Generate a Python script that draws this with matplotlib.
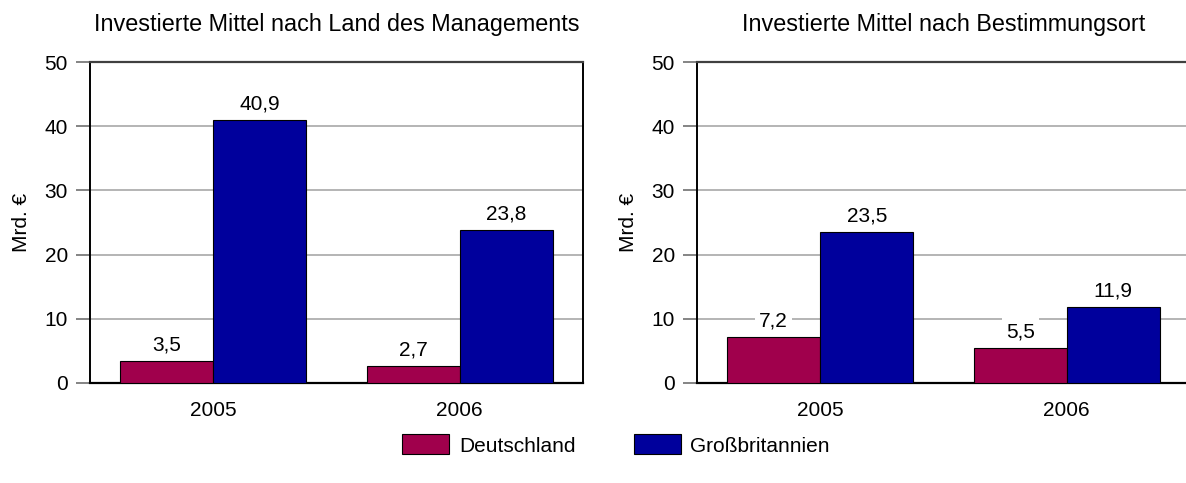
import numpy as np
import matplotlib.pyplot as plt
from matplotlib.patches import Patch

years = ['2005', '2006']
series = ['Deutschland', 'Großbritannien']
colors = ['#A0004C', '#00009C']

management = {'Deutschland': [3.5, 2.7], 'Großbritannien': [40.9, 23.8]}
destination = {'Deutschland': [7.2, 5.5], 'Großbritannien': [23.5, 11.9]}

titles = ['Investierte Mittel nach Land des Managements',
          'Investierte Mittel nach Bestimmungsort']

plt.rcParams['font.family'] = ['Liberation Sans', 'DejaVu Sans']
fs = 15

W, H = 1186, 483
fig = plt.figure(figsize=(W / 100, H / 100), dpi=100)

bottom = 1 - 383 / H
height = (383 - 62) / H
ax1 = fig.add_axes([90 / W, bottom, 493 / W, height])
ax2 = fig.add_axes([697 / W, bottom, 493 / W, height])

bw = 0.378
x = np.arange(len(years))

for ax, data, title, show_right in [(ax1, management, titles[0], True),
                                    (ax2, destination, titles[1], False)]:
    ax.set_xlim(-0.5, 1.5)
    ax.set_ylim(0, 50)
    for k, (name, col) in enumerate(zip(series, colors)):
        offs = (k - 0.5) * bw
        ax.bar(x + offs, data[name], bw, color=col, edgecolor='black',
               linewidth=0.8, zorder=3)
        for xi, v in zip(x, data[name]):
            ax.annotate(f'{v:.1f}'.replace('.', ','), (xi + offs, v),
                        xytext=(0, 11.5), textcoords='offset points',
                        ha='center', va='center', fontsize=fs, zorder=4,
                        bbox=dict(boxstyle='square,pad=0.2', fc='white',
                                  ec='none'))
    for yv in [10, 20, 30, 40]:
        ax.axhline(yv, color='#a8a8a8', linewidth=1.2, zorder=1)
    ax.spines['top'].set_color('#404040')
    ax.spines['top'].set_linewidth(1.6)
    ax.spines['left'].set_linewidth(1.4)
    ax.spines['bottom'].set_linewidth(1.6)
    ax.spines['right'].set_visible(show_right)
    ax.spines['right'].set_linewidth(1.4)
    ax.set_yticks([0, 10, 20, 30, 40, 50])
    ax.tick_params(axis='y', direction='out', length=10, width=1.2,
                   color='#707070', labelsize=fs, pad=6)
    ax.set_xticks(x)
    ax.set_xticklabels(years)
    ax.tick_params(axis='x', length=0, labelsize=fs, pad=13)
    ax.set_ylabel('Mrd. €', fontsize=fs, labelpad=10)
    ax.set_title(title, fontsize=16.8, pad=22)

handles = [Patch(facecolor=c, edgecolor='black', linewidth=0.8) for c in colors]
fig.legend(handles, series, loc='center', bbox_to_anchor=(616 / W, 1 - 445 / H),
           ncol=2, frameon=False, fontsize=fs, handlelength=2.26,
           handleheight=1.1, handletextpad=0.45, columnspacing=2.8)

fig.savefig('out.png', dpi=100)
